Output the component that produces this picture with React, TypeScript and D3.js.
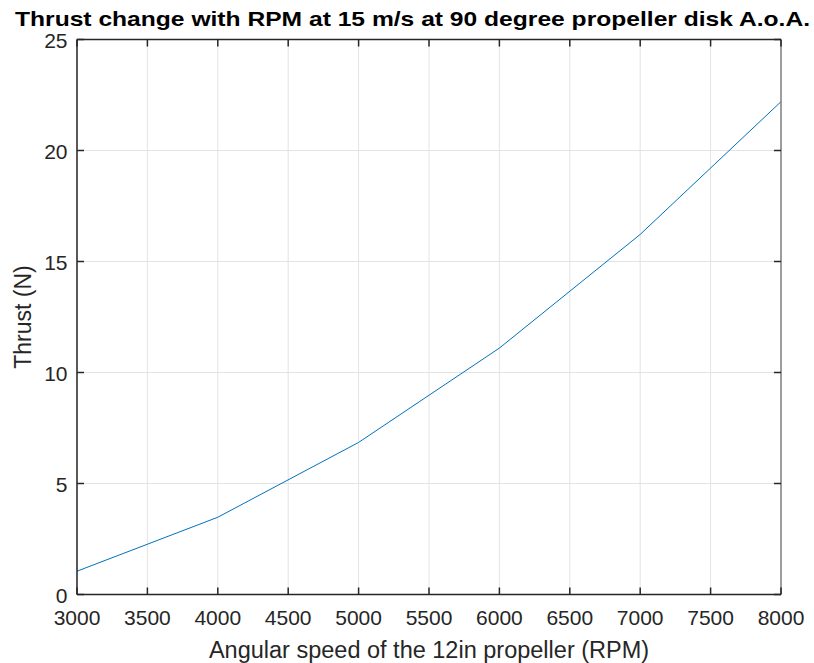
import React from "react";
import * as d3 from "d3";

const rpm = [3000, 4000, 5000, 6000, 7000, 8000];
const thrust = [1.05, 3.48, 6.85, 11.1, 16.22, 22.2];
const xTicks = [3000, 3500, 4000, 4500, 5000, 5500, 6000, 6500, 7000, 7500, 8000];
const yTicks = [0, 5, 10, 15, 20, 25];

const W = 814, H = 663;
const M = { left: 77, right: 781, top: 39.5, bottom: 594.5 };

export default function App() {
  const x = d3.scaleLinear().domain([3000, 8000]).range([M.left, M.right]);
  const y = d3.scaleLinear().domain([0, 25]).range([M.bottom, M.top]);
  const line = d3.line<number>().x((_, i) => x(rpm[i])).y((d) => y(d));
  const font = "'Liberation Sans', Arial, sans-serif";
  return (
    <svg width={W} height={H} style={{ position: "absolute", left: 0, top: 0, background: "#fff" }}>
      <rect width={W} height={H} fill="#fff" />
      {xTicks.map((t) => (
        <line key={"gx" + t} x1={x(t)} x2={x(t)} y1={M.top} y2={M.bottom} stroke="#e3e3e3" strokeWidth={1} />
      ))}
      {yTicks.map((t) => (
        <line key={"gy" + t} x1={M.left} x2={M.right} y1={y(t)} y2={y(t)} stroke="#e3e3e3" strokeWidth={1} />
      ))}
      <path d={line(thrust) || ""} fill="none" stroke="#0072BD" strokeWidth={1} />
      <line x1={M.left} x2={M.right} y1={M.top} y2={M.top} stroke="#262626" strokeWidth={1.5} />
      <line x1={M.right} x2={M.right} y1={M.top} y2={M.bottom} stroke="#808080" strokeWidth={1.5} />
      <line x1={M.left} x2={M.right} y1={M.bottom} y2={M.bottom} stroke="#262626" strokeWidth={1.5} />
      <line x1={M.left} x2={M.left} y1={M.top} y2={M.bottom} stroke="#262626" strokeWidth={1.5} />
      {xTicks.map((t) => (
        <g key={"tx" + t}>
          <line x1={x(t)} x2={x(t)} y1={M.bottom} y2={M.bottom - 7} stroke="#262626" strokeWidth={1.5} />
          <line x1={x(t)} x2={x(t)} y1={M.top} y2={M.top + 7} stroke="#262626" strokeWidth={1.5} />
          <text x={x(t)} y={M.bottom + 30.5} textAnchor="middle" fontFamily={font} fontSize={21} fill="#262626">
            {t}
          </text>
        </g>
      ))}
      {yTicks.map((t) => (
        <g key={"ty" + t}>
          <line x1={M.left} x2={M.left + 7} y1={y(t)} y2={y(t)} stroke="#262626" strokeWidth={1.5} />
          <line x1={M.right} x2={M.right - 7} y1={y(t)} y2={y(t)} stroke="#262626" strokeWidth={1.5} />
          <text x={M.left - 9.5} y={y(t) + 8} textAnchor="end" fontFamily={font} fontSize={21} fill="#262626">
            {t}
          </text>
        </g>
      ))}
      <text x={429} y={658} textAnchor="middle" fontFamily={font} fontSize={23.5} fill="#262626">
        Angular speed of the 12in propeller (RPM)
      </text>
      <text
        transform={`translate(31, ${(M.top + M.bottom) / 2}) rotate(-90)`}
        textAnchor="middle"
        fontFamily={font}
        fontSize={23}
        fill="#262626"
      >
        Thrust (N)
      </text>
      <text x={15} y={26} textLength={795} lengthAdjust="spacingAndGlyphs" fontFamily={font} fontSize={21} fontWeight="bold" fill="#000">
        Thrust change with RPM at 15 m/s at 90 degree propeller disk A.o.A.
      </text>
    </svg>
  );
}
